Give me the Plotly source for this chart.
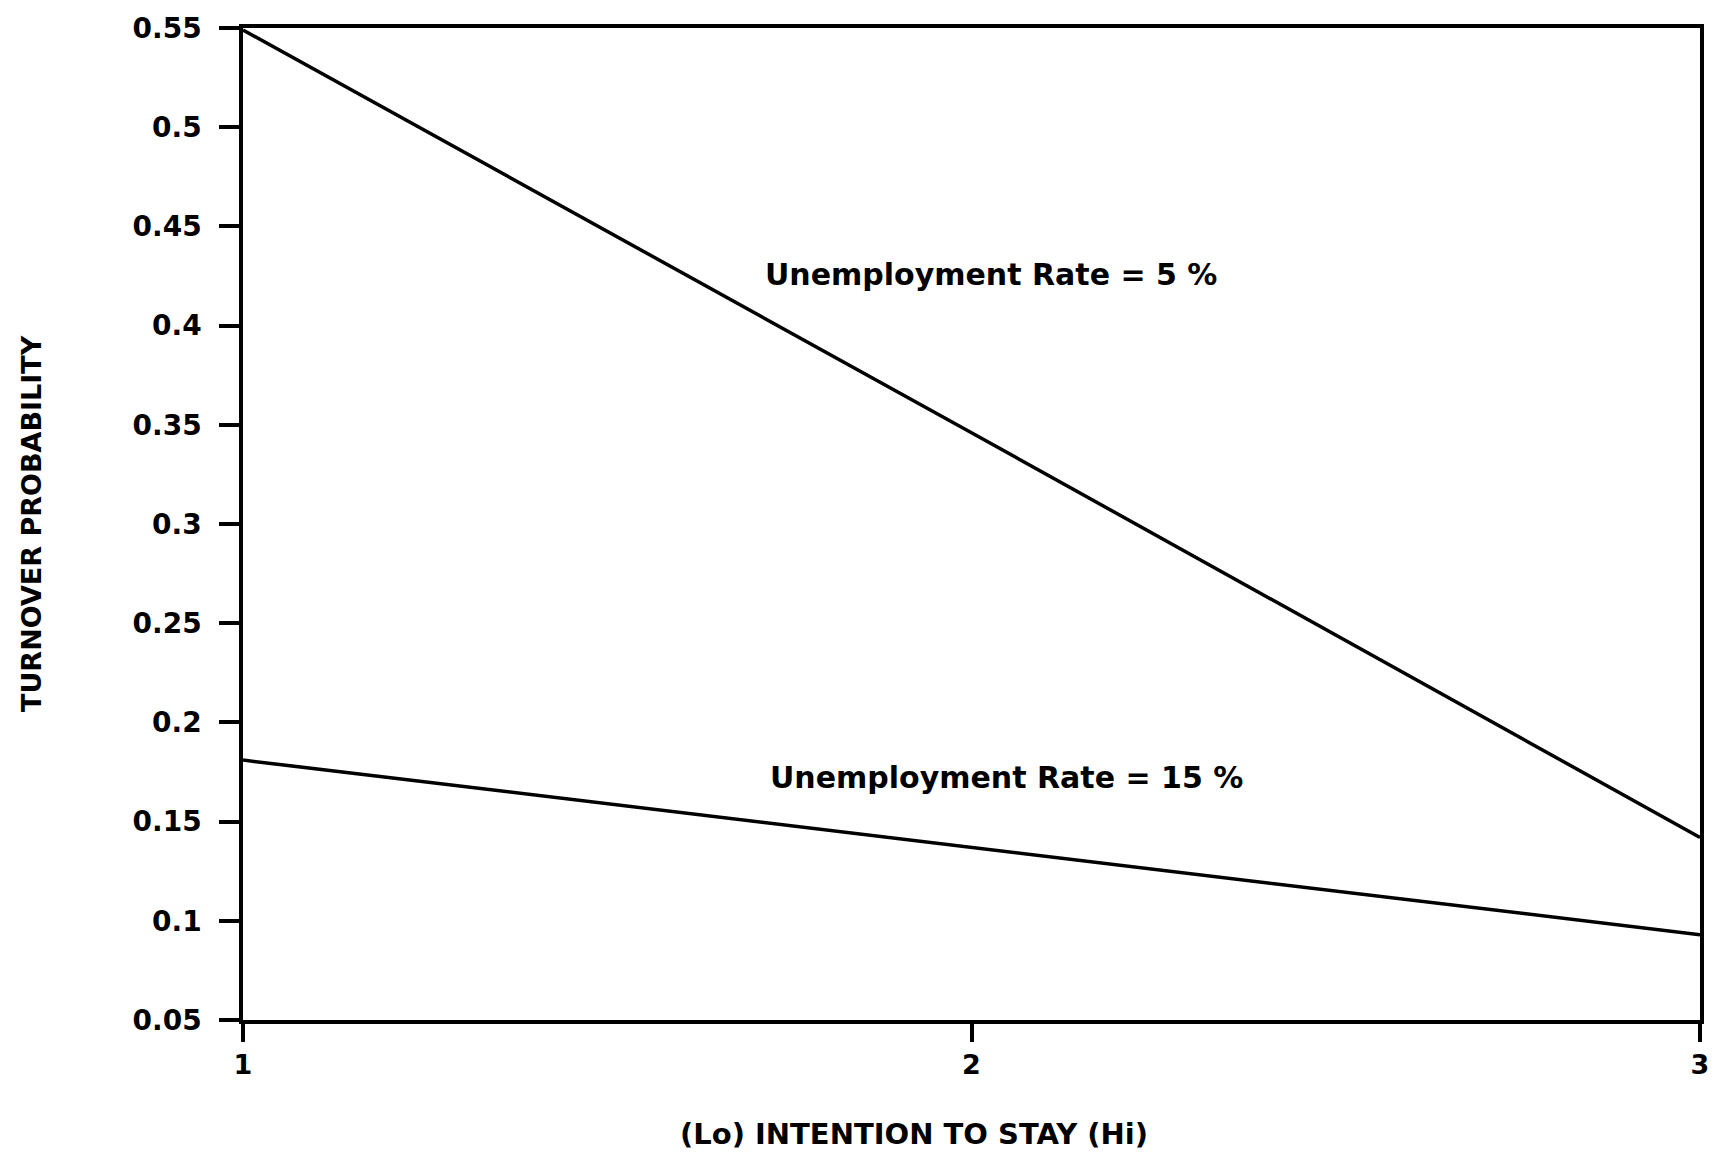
import plotly.graph_objects as go

intention = [1, 2, 3]
turnover_5 = [0.549, 0.346, 0.142]
turnover_15 = [0.181, 0.137, 0.093]
x_ticks = [1, 2, 3]
y_ticks = [0.05, 0.1, 0.15, 0.2, 0.25, 0.3, 0.35, 0.4, 0.45, 0.5, 0.55]
y_tick_labels = ["0.05", "0.1", "0.15", "0.2", "0.25", "0.3", "0.35", "0.4", "0.45", "0.5", "0.55"]
labels = ["Unemployment Rate = 5 %", "Unemployment Rate = 15 %"]
label_pos = [(1.714, 0.426), (1.721, 0.172)]
x_title = "(Lo) INTENTION TO STAY (Hi)"
y_title = "TURNOVER PROBABILITY"

FONT = "DejaVu Sans, Verdana, sans-serif"

fig = go.Figure()
for ys in (turnover_5, turnover_15):
    fig.add_trace(go.Scatter(x=intention, y=ys, mode="lines",
                             line=dict(color="black", width=3.5),
                             showlegend=False, hoverinfo="skip"))

for txt, (ax, ay) in zip(labels, label_pos):
    fig.add_annotation(x=ax, y=ay, text=txt, showarrow=False,
                       xanchor="left", yanchor="middle",
                       font=dict(family=FONT, size=30, color="black", weight="bold"))

# axis titles (placed as in the reference)
fig.add_annotation(xref="paper", yref="paper", x=0.4605, y=0, yshift=-114,
                   xanchor="center", yanchor="middle", showarrow=False,
                   text=x_title,
                   font=dict(family=FONT, size=29, color="black", weight="bold"))
fig.add_annotation(xref="paper", yref="paper", x=0, xshift=-212, y=0.5,
                   xanchor="center", yanchor="middle", showarrow=False,
                   textangle=-90, text=y_title,
                   font=dict(family=FONT, size=27, color="black", weight="bold"))

fig.update_layout(
    width=1705, height=1145,
    margin=dict(l=235, r=13, t=20, b=133),
    paper_bgcolor="white", plot_bgcolor="white",
    font=dict(family=FONT, color="black"),
)
fig.update_xaxes(
    range=[1, 3], tickvals=x_ticks, ticktext=[str(v) for v in x_ticks],
    automargin=False,
    showgrid=False, zeroline=False,
    showline=True, linecolor="black", linewidth=3.5, mirror=True,
    ticks="outside", ticklen=18, tickwidth=3.5, tickcolor="black",
    ticklabelstandoff=0,
    tickfont=dict(family=FONT, size=27, color="black", weight="bold"),
)
fig.update_yaxes(
    range=[0.05, 0.55], tickvals=y_ticks, ticktext=y_tick_labels,
    automargin=False,
    showgrid=False, zeroline=False,
    showline=True, linecolor="black", linewidth=3.5, mirror=True,
    ticks="outside", ticklen=20, tickwidth=3.5, tickcolor="black",
    ticklabelstandoff=12,
    tickfont=dict(family=FONT, size=28, color="black", weight="bold"),
)

fig.write_html("out.html")
